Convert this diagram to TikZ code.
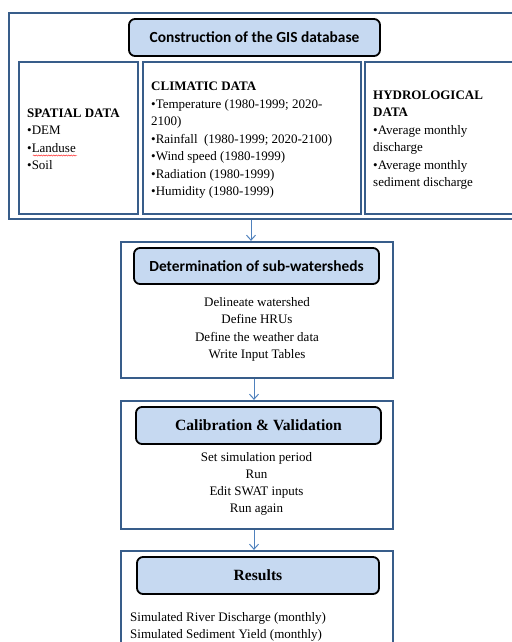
\documentclass[tikz,border=0pt]{standalone}
\usepackage{fontspec}
\setmainfont{Liberation Serif}
\newfontfamily\headfont{Carlito}
\usetikzlibrary{arrows.meta}
\usetikzlibrary{positioning}
\usetikzlibrary{decorations.pathmorphing}
\definecolor{frameblue}{HTML}{385D8A}
\definecolor{arrowblue}{HTML}{4F81BD}
\definecolor{titlefill}{HTML}{C6D9F1}

\begin{document}
\begin{tikzpicture}[x=1pt,y=-1pt,
  frame/.style={draw=frameblue,line width=2.2pt,inner sep=0pt},
  titlebox/.style={draw=black,line width=1.8pt,fill=titlefill,rounded corners=6pt,inner sep=0pt},
  body/.style={font=\fontsize{13}{17.5}\selectfont,inner sep=0pt},
  link/.style={draw=arrowblue,line width=1pt,-{Straight Barb[length=5pt,width=9pt]}}]
\useasboundingbox (0,0) rectangle (511,642);

  % GIS database (text nodes sit on the baseline of their last line)
  \node[frame,minimum width=511pt,minimum height=206pt] (gis) at (264.5,116) {};
  \node[titlebox,minimum width=251pt,minimum height=37pt,font=\headfont\bfseries\fontsize{15.4}{18}\selectfont] (gistitle) at (254.5,37.5) {Construction of the GIS database};
  \node[frame,minimum width=119pt,minimum height=152pt] (spatial) at (78.5,138) {};
  \node[frame,minimum width=218pt,minimum height=152pt] (climatic) at (252,138) {};
  \node[frame,minimum width=155pt,minimum height=152pt] (hydro) at (442.5,138) {};

  \node[body,anchor=base west,align=left] (spatialtxt) at (27,169.8) {\textbf{SPATIAL DATA}\\•DEM\\•Landuse\\•Soil};
  \draw[red,line width=0.4pt,decorate,decoration={snake,amplitude=0.6pt,segment length=2.5pt}] (33,155.5) -- (77,155.5);
  \node[body,anchor=base west,align=left] (climatictxt) at (151,195.7) {\textbf{CLIMATIC DATA}\\•Temperature (1980-1999; 2020-\\2100)\\•Rainfall~~(1980-1999; 2020-2100)\\•Wind speed (1980-1999)\\•Radiation (1980-1999)\\•Humidity (1980-1999)};
  \node[body,anchor=base west,align=left] (hydrotxt) at (373,186.8) {\textbf{HYDROLOGICAL}\\\textbf{DATA}\\•Average monthly\\discharge\\•Average monthly\\sediment discharge};

  % sub-watersheds
  \node[frame,minimum width=272pt,minimum height=136pt] (subws) at (257,310) {};
  \node[titlebox,minimum width=245pt,minimum height=36pt,font=\headfont\bfseries\fontsize{15.4}{18}\selectfont] (subtitle) at (256.5,266) {Determination of sub-watersheds};
  \node[body,anchor=base,align=center] (subtxt) at (257,358.5) {Delineate watershed\\Define HRUs\\Define the weather data\\Write Input Tables};

  % calibration
  \node[frame,minimum width=272pt,minimum height=128pt] (calib) at (257,465) {};
  \node[titlebox,minimum width=245pt,minimum height=37pt,font=\bfseries\fontsize{15.6}{18}\selectfont] (calibtitle) at (258.5,425.5) {Calibration \& Validation};
  \node[body,anchor=base,align=center,font=\fontsize{13}{17}\selectfont] (calibtxt) at (256.5,512) {Set simulation period\\Run\\Edit SWAT inputs\\Run again};

  % results
  \node[frame,minimum width=272pt,minimum height=120pt] (results) at (257,611) {};
  \node[titlebox,minimum width=242pt,minimum height=37pt,font=\bfseries\fontsize{15.6}{18}\selectfont] (restitle) at (258,575.5) {Results};
  \node[body,anchor=base west,align=left,font=\fontsize{13}{16.6}\selectfont] (restxt) at (130,638.3) {Simulated River Discharge (monthly)\\Simulated Sediment Yield (monthly)};

  \coordinate (a1) at ([xshift=-6pt]subws.north);
  \coordinate (a2) at ([xshift=-3pt]calib.north);
  \coordinate (a3) at ([xshift=-3pt]results.north);
  \draw[link] (gis.south -| a1) -- (a1);
  \draw[link] (subws.south -| a2) -- (a2);
  \draw[link] (calib.south -| a3) -- (a3);

\end{tikzpicture}
\end{document}
